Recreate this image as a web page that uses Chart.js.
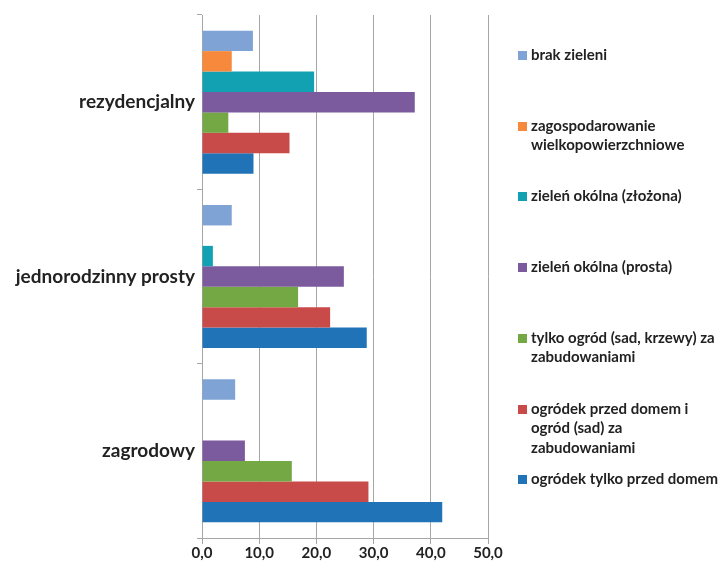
<!DOCTYPE html>
<html>
<head>
<meta charset="utf-8">
<script src="https://cdn.jsdelivr.net/npm/chart.js@4"></script>
<style>
  html, body { margin: 0; padding: 0; background: #fff; }
  #wrap { position: relative; width: 723px; height: 568px; overflow: hidden; }
  #c { position: absolute; left: 0; top: 0; }
  #legend { position: absolute; left: 518px; top: 0; width: 205px; font-family: Lato, "Open Sans", sans-serif; font-weight: bold; font-size: 15px; color: #222; white-space: nowrap; }
  .item { position: absolute; left: 0; display: flex; align-items: flex-start; line-height: 19.5px; }
  .box { width: 9px; height: 9px; margin-top: 6px; margin-right: 4px; flex: 0 0 auto; }
</style>
</head>
<body>
<div id="wrap">
  <canvas id="c" width="723" height="568"></canvas>
  <div id="legend"></div>
</div>
<script>
const categories = ["rezydencjalny", "jednorodzinny prosty", "zagrodowy"];
const seriesNames = [
  ["brak zieleni"],
  ["zagospodarowanie", "wielkopowierzchniowe"],
  ["zieleń okólna (złożona)"],
  ["zieleń okólna (prosta)"],
  ["tylko ogród (sad, krzewy) za", "zabudowaniami"],
  ["ogródek przed domem i", "ogród (sad) za", "zabudowaniami"],
  ["ogródek tylko przed domem"]
];
const brakZieleni = [8.9, 5.2, 5.8];
const zagospodarowanie = [5.2, 0, 0];
const zielenZlozona = [19.6, 1.9, 0];
const zielenProsta = [37.2, 24.8, 7.5];
const tylkoOgrod = [4.6, 16.8, 15.7];
const ogrodekIOgrod = [15.3, 22.4, 29.1];
const ogrodekTylko = [9.0, 28.8, 42.0];
const xTicks = [0, 10, 20, 30, 40, 50];
const colors = ["#7FA3D5", "#F6893B", "#12A1B2", "#7B5B9E", "#73A845", "#C84B4A", "#2073B6"];

const seriesValues = [brakZieleni, zagospodarowanie, zielenZlozona, zielenProsta, tylkoOgrod, ogrodekIOgrod, ogrodekTylko];

const datasets = seriesValues.map((vals, i) => ({
  label: seriesNames[i].join(" "),
  data: vals,
  backgroundColor: colors[i],
  borderWidth: 0,
  categoryPercentage: 0.82,
  barPercentage: 1.0
}));

new Chart(document.getElementById("c"), {
  type: "bar",
  data: { labels: categories, datasets: datasets },
  options: {
    indexAxis: "y",
    responsive: false,
    animation: false,
    layout: { padding: { top: 15, right: 235, left: 0, bottom: 0 } },
    plugins: { legend: { display: false }, tooltip: { enabled: false } },
    scales: {
      x: {
        min: 0, max: 50,
        afterBuildTicks: (axis) => { axis.ticks = xTicks.map(v => ({ value: v })); },
        afterFit: (axis) => { axis.height = 30; },
        grid: { color: "#A6A6A6", lineWidth: 1, tickLength: 6, drawTicks: true },
        border: { color: "#A6A6A6" },
        ticks: {
          padding: 0,
          color: "#222",
          font: { family: "Lato", weight: "bold", size: 15 },
          callback: (v) => Number(v).toFixed(1).replace(".", ",")
        }
      },
      y: {
        afterFit: (axis) => { axis.width = 202; },
        grid: { drawOnChartArea: false, color: "#A6A6A6", tickLength: 5, offset: true },
        border: { color: "#A6A6A6" },
        ticks: {
          padding: 2,
          color: "#222",
          font: { family: "Lato", weight: "bold", size: 19 }
        }
      }
    }
  }
});

const legend = document.getElementById("legend");
const slotTops = 45;
const slotH = 70.7;
seriesNames.forEach((lines, i) => {
  const it = document.createElement("div");
  it.className = "item";
  it.style.top = (slotTops + i * slotH) + "px";
  const b = document.createElement("div");
  b.className = "box";
  b.style.background = colors[i];
  const t = document.createElement("div");
  t.innerHTML = lines.map(s => s.replace(/&/g, "&amp;")).join("<br>");
  it.appendChild(b);
  it.appendChild(t);
  legend.appendChild(it);
});
</script>
</body>
</html>
